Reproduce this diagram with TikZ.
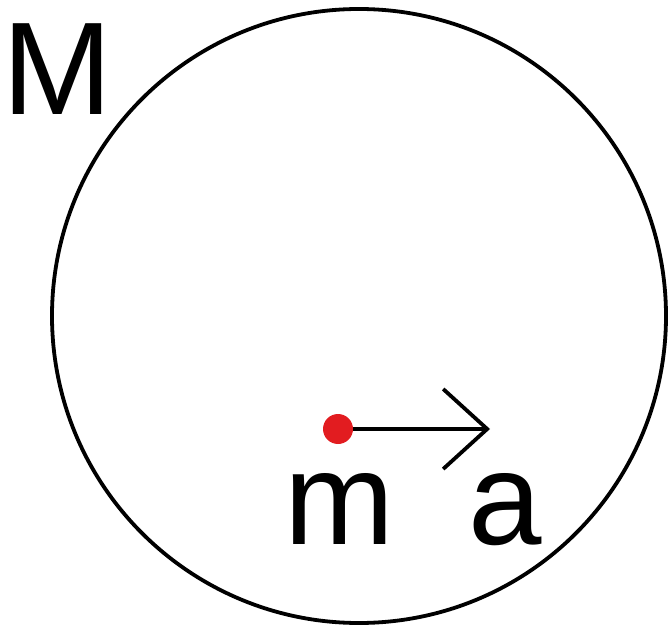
\documentclass[tikz,border=0pt]{standalone}
\usepackage{fontspec}
\setmainfont{Liberation Sans}
\usepackage{xcolor}
\usetikzlibrary{arrows.meta,positioning}
\definecolor{dotred}{RGB}{226,28,32}
\begin{document}
\begin{tikzpicture}[x=1pt,y=1pt,
  lbl/.style={font=\fontsize{132}{132}\selectfont,inner sep=0pt,anchor=base west},
  body/.style={circle,draw,line width=3.8pt,minimum size=614pt,inner sep=0pt},
  pt/.style={circle,fill=dotred,minimum size=30pt,inner sep=0pt},
  arr/.style={-{Straight Barb[length=44pt,width=80pt,line width=3.8pt]},line width=3.6pt}]
\useasboundingbox (0,0) rectangle (669,630);
% big mass
\node[body] (big) at (359,314) {};
\node[lbl] (bigM) at (2,515) {M};
% small mass and its acceleration
\node[pt] (small) at (338,201) {};
\coordinate (tip) at (490,201);
\draw[arr] (small) -- (tip);
\node[lbl] (smallm) at (284,86) {m};
\node[lbl] (acc) at (468,86) {a};
\end{tikzpicture}
\end{document}
